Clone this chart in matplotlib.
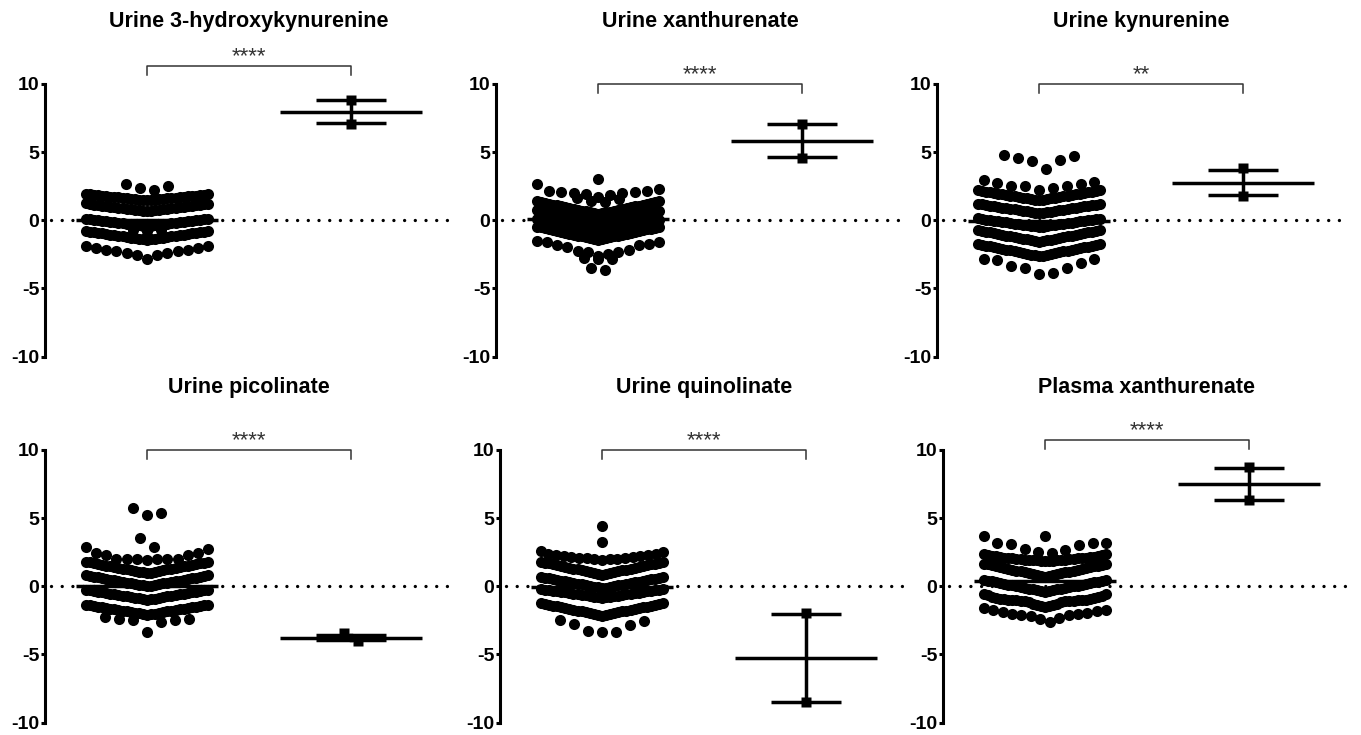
"""
Six-panel GraphPad-style scatter comparison (swarm vs. two-point group).
"""

import matplotlib

matplotlib.use("Agg")
import matplotlib.pyplot as plt
import numpy as np

plt.rcParams["font.family"] = ["Liberation Sans", "DejaVu Sans"]
plt.rcParams["axes.unicode_minus"] = False

# ---------------------------------------------------------------- data
TITLES = [
    "Urine 3-hydroxykynurenine",
    "Urine xanthurenate",
    "Urine kynurenine",
    "Urine picolinate",
    "Urine quinolinate",
    "Plasma xanthurenate",
]
STARS = ["****", "****", "**", "****", "****", "****"]
BRACKET_Y = [11.3, 10.0, 10.0, 10.0, 10.0, 10.7]

GROUP1_MEAN = [0.0, 0.1, -0.05, 0.0, -0.05, 0.35]
GROUP2_MEAN = [7.98, 5.85, 2.77, -3.78, -5.24, 7.51]
GROUP2_ERR = [0.86, 1.21, 0.93, 0.18, 3.23, 1.16]

# group 2 points, one list per swarm row
urine_3hk_g2 = [[8.85], [7.1]]
urine_xa_g2 = [[7.05], [4.6]]
urine_kyn_g2 = [[3.8], [1.75]]
urine_pic_g2 = [[-4.05, -3.45]]
urine_quin_g2 = [[-1.98], [-8.48]]
plasma_xa_g2 = [[8.72], [6.3]]

# group 1 points, one list per swarm row (bins of similar values)
urine_3hk_rows = [
    [2.25, 2.37, 2.54, 2.66],
    [1.45, 1.47, 1.48, 1.5, 1.51, 1.53, 1.54, 1.57, 1.58, 1.6, 1.61, 1.63, 1.64,
     1.66, 1.67, 1.69, 1.7, 1.72, 1.73, 1.75, 1.76, 1.78, 1.79, 1.81, 1.82,
     1.84, 1.85, 1.87, 1.89, 1.9, 1.96],
    [0.65, 0.68, 0.69, 0.72, 0.73, 0.76, 0.77, 0.8, 0.81, 0.84, 0.85, 0.87, 0.88,
     0.91, 0.92, 0.95, 0.96, 0.99, 1.0, 1.03, 1.04, 1.07, 1.08, 1.11, 1.12,
     1.14, 1.15, 1.18, 1.19, 1.21, 1.25],
    [-0.45, -0.42, -0.41, -0.38, -0.37, -0.34, -0.33, -0.31, -0.3, -0.27, -0.26,
     -0.23, -0.22, -0.19, -0.18, -0.16, -0.15, -0.12, -0.11, -0.08, -0.07,
     -0.04, -0.03, -0.01, 0.0, 0.03, 0.04, 0.07, 0.08, 0.1, 0.12],
    [-0.8, -0.7, -0.7],
    [-1.45, -1.41, -1.4, -1.37, -1.36, -1.32, -1.31, -1.28, -1.27, -1.24, -1.23,
     -1.19, -1.18, -1.15, -1.14, -1.11, -1.1, -1.06, -1.05, -1.02, -1.01,
     -0.97, -0.96, -0.93, -0.92, -0.89, -0.88, -0.84, -0.83, -0.8, -0.8],
    [-2.83, -2.52, -2.52, -2.42, -2.39, -2.27, -2.27, -2.22, -2.15, -2.03,
     -2.03, -1.9, -1.86],
]

urine_xa_rows = [
    [3.04],
    [1.73, 1.85, 1.9, 1.98, 2.02, 2.1, 2.1, 2.15, 2.17, 2.27, 2.67],
    [1.36, 1.41, 1.53, 1.6],
    [0.45, 0.51, 0.52, 0.57, 0.58, 0.64, 0.65, 0.7, 0.71, 0.76, 0.77, 0.83, 0.84,
     0.89, 0.9, 0.95, 0.96, 1.02, 1.03, 1.08, 1.09, 1.14, 1.15, 1.21, 1.22,
     1.27, 1.28, 1.33, 1.34, 1.39, 1.42],
    [-0.2, -0.14, -0.13, -0.08, -0.07, -0.02, -0.01, 0.04, 0.05, 0.1, 0.11,
     0.16, 0.17, 0.22, 0.23, 0.28, 0.29, 0.34, 0.35, 0.4, 0.41, 0.46, 0.47,
     0.52, 0.53, 0.58, 0.59, 0.64, 0.65, 0.7, 0.74],
    [-0.8, -0.75, -0.74, -0.69, -0.68, -0.63, -0.62, -0.58, -0.57, -0.52, -0.51,
     -0.46, -0.45, -0.41, -0.4, -0.35, -0.34, -0.29, -0.28, -0.23, -0.22,
     -0.18, -0.17, -0.12, -0.11, -0.06, -0.05, -0.01, 0.0, 0.04, 0.06],
    [-1.45, -1.39, -1.38, -1.32, -1.31, -1.26, -1.25, -1.19, -1.18, -1.13, -1.12,
     -1.06, -1.05, -1.0, -0.99, -0.93, -0.92, -0.87, -0.86, -0.8, -0.79,
     -0.74, -0.73, -0.67, -0.66, -0.61, -0.6, -0.54, -0.53, -0.48, -0.46],
    [-2.6, -2.48, -2.3, -2.3, -2.23, -2.18, -1.98, -1.81, -1.81, -1.73,
     -1.61, -1.56, -1.53],
    [-2.85, -2.85, -2.8],
    [-3.66, -3.5],
]

urine_kyn_rows = [
    [3.75, 4.33, 4.43, 4.55, 4.75, 4.8],
    [2.2, 2.4, 2.5, 2.5, 2.55, 2.65, 2.75, 2.8, 2.96],
    [1.45, 1.5, 1.51, 1.55, 1.56, 1.6, 1.61, 1.65, 1.66, 1.7, 1.71, 1.75, 1.76,
     1.8, 1.81, 1.85, 1.86, 1.9, 1.91, 1.95, 1.96, 2.0, 2.01, 2.05, 2.06,
     2.1, 2.11, 2.15, 2.16, 2.19, 2.21],
    [0.5, 0.54, 0.55, 0.59, 0.6, 0.64, 0.65, 0.68, 0.69, 0.73, 0.74, 0.78, 0.79,
     0.82, 0.83, 0.87, 0.88, 0.92, 0.93, 0.96, 0.97, 1.01, 1.02, 1.06, 1.07,
     1.1, 1.11, 1.15, 1.16, 1.19, 1.21],
    [-0.5, -0.46, -0.45, -0.42, -0.41, -0.38, -0.37, -0.33, -0.32, -0.29, -0.28,
     -0.25, -0.24, -0.21, -0.2, -0.17, -0.16, -0.12, -0.11, -0.08, -0.07,
     -0.04, -0.03, 0.0, 0.01, 0.04, 0.05, 0.08, 0.09, 0.12, 0.14],
    [-1.6, -1.54, -1.53, -1.48, -1.47, -1.42, -1.41, -1.37, -1.36, -1.31, -1.3,
     -1.25, -1.24, -1.19, -1.18, -1.13, -1.12, -1.07, -1.06, -1.01, -1.0,
     -0.95, -0.94, -0.89, -0.88, -0.84, -0.83, -0.78, -0.77, -0.72, -0.71],
    [-2.65, -2.59, -2.58, -2.53, -2.52, -2.47, -2.46, -2.41, -2.4, -2.35, -2.34,
     -2.29, -2.28, -2.23, -2.22, -2.17, -2.16, -2.11, -2.1, -2.05, -2.04,
     -1.99, -1.98, -1.93, -1.92, -1.87, -1.86, -1.81, -1.8, -1.76, -1.74],
    [-3.93, -3.9, -3.5, -3.5, -3.33, -3.13, -2.95, -2.88, -2.88],
]

urine_pic_rows = [
    [5.24, 5.39, 5.73],
    [2.88, 3.56],
    [1.9, 1.98, 1.98, 1.98, 1.98, 2.02, 2.02, 2.27, 2.3, 2.46, 2.46, 2.71, 2.88],
    [0.95, 1.0, 1.01, 1.06, 1.07, 1.12, 1.13, 1.17, 1.18, 1.23, 1.24, 1.29, 1.3,
     1.34, 1.35, 1.4, 1.41, 1.46, 1.47, 1.51, 1.52, 1.57, 1.58, 1.63, 1.64,
     1.68, 1.69, 1.74, 1.75, 1.79, 1.81],
    [0.0, 0.05, 0.06, 0.1, 0.11, 0.16, 0.17, 0.21, 0.22, 0.26, 0.27, 0.32, 0.33,
     0.37, 0.38, 0.42, 0.43, 0.48, 0.49, 0.53, 0.54, 0.58, 0.59, 0.64, 0.65,
     0.69, 0.7, 0.74, 0.75, 0.79, 0.81],
    [-1.0, -0.95, -0.94, -0.9, -0.89, -0.85, -0.84, -0.8, -0.79, -0.75, -0.74,
     -0.7, -0.69, -0.65, -0.64, -0.6, -0.59, -0.55, -0.54, -0.5, -0.49,
     -0.45, -0.44, -0.4, -0.39, -0.35, -0.34, -0.3, -0.29, -0.26, -0.24],
    [-2.1, -2.05, -2.04, -2.0, -1.99, -1.95, -1.94, -1.9, -1.89, -1.85, -1.84,
     -1.8, -1.79, -1.75, -1.74, -1.7, -1.69, -1.65, -1.64, -1.6, -1.59,
     -1.55, -1.54, -1.5, -1.49, -1.45, -1.44, -1.4, -1.39, -1.36, -1.34],
    [-3.34, -2.61, -2.49, -2.49, -2.44, -2.37, -2.29],
]

urine_quin_rows = [
    [4.41],
    [3.24],
    [1.95, 1.98, 2.0, 2.03, 2.05, 2.08, 2.1, 2.14, 2.16, 2.2, 2.22,
     2.27, 2.29, 2.36, 2.4, 2.48, 2.58],
    [0.85, 0.91, 0.92, 0.97, 0.98, 1.03, 1.04, 1.1, 1.11, 1.16, 1.17, 1.22, 1.23,
     1.28, 1.29, 1.35, 1.36, 1.41, 1.42, 1.47, 1.48, 1.53, 1.54, 1.6, 1.61,
     1.66, 1.67, 1.72, 1.73, 1.77, 1.79],
    [-0.15, -0.1, -0.09, -0.04, -0.03, 0.01, 0.02, 0.07, 0.08, 0.12, 0.13,
     0.18, 0.19, 0.23, 0.24, 0.29, 0.3, 0.34, 0.35, 0.4, 0.41, 0.45, 0.46,
     0.51, 0.52, 0.56, 0.57, 0.62, 0.63, 0.67, 0.69],
    [-0.85, -0.81, -0.8, -0.77, -0.76, -0.72, -0.71, -0.68, -0.67, -0.64, -0.63,
     -0.59, -0.58, -0.55, -0.54, -0.51, -0.5, -0.46, -0.45, -0.42, -0.41,
     -0.38, -0.37, -0.33, -0.32, -0.29, -0.28, -0.25, -0.24, -0.21, -0.19],
    [-2.15, -2.09, -2.08, -2.03, -2.02, -1.97, -1.96, -1.91, -1.9, -1.85, -1.84,
     -1.79, -1.78, -1.73, -1.72, -1.67, -1.66, -1.61, -1.6, -1.55, -1.54,
     -1.49, -1.48, -1.43, -1.42, -1.37, -1.36, -1.31, -1.3, -1.26, -1.24],
    [-3.33, -3.33, -3.26, -2.84, -2.78, -2.52, -2.5],
]

plasma_xa_rows = [
    [3.68],
    [2.43, 2.48, 2.64, 2.72, 3.0, 3.08, 3.15, 3.2, 3.2, 3.68],
    [1.85, 1.86, 1.87, 1.88, 1.89, 1.9, 1.91, 1.92, 1.93, 1.95, 1.96, 1.98, 1.99,
     2.01, 2.02, 2.04, 2.05, 2.07, 2.08, 2.1, 2.11, 2.14, 2.15, 2.18, 2.19,
     2.22, 2.24, 2.28, 2.3, 2.35, 2.4],
    [0.7, 0.76, 0.77, 0.82, 0.83, 0.89, 0.9, 0.95, 0.96, 1.02, 1.03, 1.08, 1.09,
     1.14, 1.15, 1.21, 1.22, 1.27, 1.28, 1.33, 1.34, 1.4, 1.41, 1.46, 1.47,
     1.52, 1.53, 1.59, 1.6, 1.64, 1.66],
    [-0.4, -0.35, -0.34, -0.29, -0.28, -0.23, -0.22, -0.18, -0.17, -0.12, -0.11,
     -0.06, -0.05, 0.0, 0.01, 0.05, 0.06, 0.11, 0.12, 0.17, 0.18, 0.22, 0.23,
     0.28, 0.29, 0.34, 0.35, 0.39, 0.4, 0.44, 0.46],
    [-1.5, -1.46, -1.44, -1.39, -1.37, -1.29, -1.27, -1.19, -1.17, -1.11, -1.09,
     -1.07, -1.05, -1.05, -1.03, -1.03, -1.01, -1.01, -0.99, -0.98, -0.96,
     -0.94, -0.92, -0.88, -0.86, -0.79, -0.77, -0.69, -0.67, -0.57, -0.55],
    [-2.66, -2.44, -2.32, -2.2, -2.12, -2.12, -2.0, -2.0, -1.95, -1.88,
     -1.8, -1.76, -1.71, -1.63],
]

GROUP1_ROWS = [urine_3hk_rows, urine_xa_rows, urine_kyn_rows,
               urine_pic_rows, urine_quin_rows, plasma_xa_rows]
GROUP2_ROWS = [urine_3hk_g2, urine_xa_g2, urine_kyn_g2,
               urine_pic_g2, urine_quin_g2, plasma_xa_g2]

# ---------------------------------------------------------------- layout
FIG_W, FIG_H, DPI = 1361, 735, 100
AX_W_PX = 408
AX_H_PX = 272.5
AX_LEFT_PX = [45, 496, 937, 45, 500, 943]
AX_TOP_PX = [84, 84, 84, 450, 450, 450]

SWARM_HALF = 0.30   # data units (1 unit = 204 px)
STEP_MAX = 0.068
MEAN_HALF = 0.35
CAP_HALF = 0.171
LINE_W = 2.5
INK = "black"


def swarm_positions(values, center):
    """Centre-out beeswarm: lowest value in the middle, others alternate."""
    vals = np.sort(np.asarray(values, dtype=float))
    n = len(vals)
    if n == 1:
        return np.array([center]), vals
    step = min(STEP_MAX, 2 * SWARM_HALF / (n - 1))
    xs = np.empty(n)
    for i in range(n):
        if n % 2:
            slot = (i + 1) // 2
            side = 1 if i % 2 else -1
        else:
            slot = i // 2 + 0.5
            side = 1 if i % 2 == 0 else -1
        xs[i] = center + side * slot * step
    return xs, vals


def draw_panel(ax, idx):
    ax.set_xlim(0.5, 2.5)
    ax.set_ylim(-10, 10)

    # dotted zero line
    ax.plot([0.53, 2.5], [0, 0], color=INK, lw=2.4,
            linestyle=(0, (0.01, 3.2)), dash_capstyle="round", zorder=1)

    for row in GROUP1_ROWS[idx]:
        xs, ys = swarm_positions(row, 1.0)
        ax.plot(xs, ys, "o", ms=8.0, color=INK, mec="none", zorder=2)

    ax.plot([1 - MEAN_HALF, 1 + MEAN_HALF], [GROUP1_MEAN[idx]] * 2,
            color=INK, lw=LINE_W, solid_capstyle="butt", zorder=3)

    mean2, err2 = GROUP2_MEAN[idx], GROUP2_ERR[idx]
    ax.plot([2 - MEAN_HALF, 2 + MEAN_HALF], [mean2, mean2],
            color=INK, lw=LINE_W, solid_capstyle="butt", zorder=3)
    ax.plot([2, 2], [mean2 - err2, mean2 + err2], color=INK, lw=LINE_W, zorder=3)
    for y in (mean2 - err2, mean2 + err2):
        ax.plot([2 - CAP_HALF, 2 + CAP_HALF], [y, y], color=INK, lw=LINE_W,
                solid_capstyle="butt", zorder=3)
    for row in GROUP2_ROWS[idx]:
        xs, ys = swarm_positions(row, 2.0)
        ax.plot(xs, ys, "s", ms=7, color=INK, mec="none", zorder=4)

    # significance bracket
    by = BRACKET_Y[idx]
    ax.plot([1, 1, 2, 2], [by - 0.65, by, by, by - 0.65], color="#333333",
            lw=1.1, clip_on=False)
    ax.text(1.5, by + 0.3, STARS[idx], ha="center", va="baseline",
            fontsize=16, color="#333333")

    ax.text(0.5, 1.23, TITLES[idx], transform=ax.transAxes, ha="center",
            va="center", fontsize=15.5, fontweight="bold")

    for side in ("top", "right", "bottom"):
        ax.spines[side].set_visible(False)
    ax.spines["left"].set_linewidth(2.2)
    ax.spines["left"].set_bounds(-10, 10)
    ax.set_xticks([])
    ax.set_yticks([-10, -5, 0, 5, 10])
    ax.set_yticklabels(["-10", "-5", "0", "5", "10"])
    ax.tick_params(axis="y", length=3, width=2.2, pad=1, labelsize=14)
    for lab in ax.get_yticklabels():
        lab.set_fontweight("bold")


def main():
    fig = plt.figure(figsize=(FIG_W / DPI, FIG_H / DPI), dpi=DPI)
    for idx in range(6):
        left = AX_LEFT_PX[idx] / FIG_W
        bottom = 1 - (AX_TOP_PX[idx] + AX_H_PX) / FIG_H
        ax = fig.add_axes([left, bottom, AX_W_PX / FIG_W, AX_H_PX / FIG_H])
        ax.patch.set_visible(False)
        draw_panel(ax, idx)
    fig.savefig("out.png", dpi=DPI, facecolor="white")


if __name__ == "__main__":
    main()
